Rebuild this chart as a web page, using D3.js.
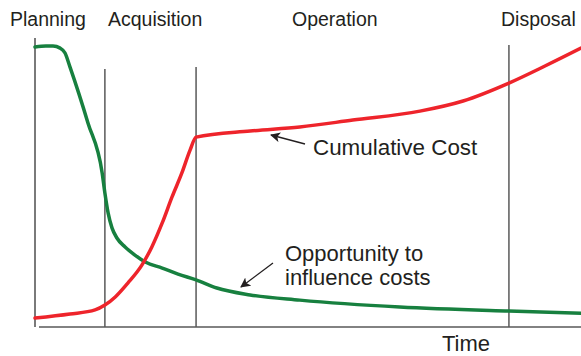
<!DOCTYPE html>
<html>
<head>
<meta charset="utf-8">
<script src="https://cdn.jsdelivr.net/npm/d3@7"></script>
<style>
  body { margin: 0; background: #fff; }
  text { font-family: "Liberation Sans", Arial, Helvetica, sans-serif; fill: #231f20; }
</style>
</head>
<body>
<svg></svg>
<script>
// chart size
var width = 581;
var height = 356;
var svg = d3.select("svg").attr("width", width).attr("height", height);

// data (time 0-100, value 0-100)
var phases = ["Planning", "Acquisition", "Operation", "Disposal"];
var phaseEnds = [12.8, 29.5, 86.8];
var phaseLineTops = [89.3, 90, 97.6];

var costTime = [0, 6.4, 11, 12.8, 14.7, 17, 19.6, 21.4, 23.3, 25.1, 26.9, 28.4, 29.5, 39.4, 48.5, 58.2, 70.5, 78.4, 86.8, 93.4, 100];
var costValue = [3.1, 4.5, 5.9, 7.6, 10.4, 15.2, 21.5, 27.7, 36, 45, 53.3, 61.2, 65.7, 67.8, 69.2, 71.6, 74.7, 78.2, 84.4, 90.3, 96.5];

var oppTime = [0, 2, 3.3, 4.6, 5.5, 6.4, 9.7, 12.3, 12.8, 13.4, 14.1, 15, 16.5, 18.3, 20.2, 23.3, 26.2, 29.5, 33.3, 39.4, 48.5, 66.8, 86.8, 100];
var oppValue = [96.9, 97.2, 97.2, 96.5, 94.8, 90, 70.6, 53.3, 46.4, 39.4, 34.3, 30.8, 27.7, 24.9, 22.5, 20.4, 18.3, 16.3, 13.5, 11.1, 9.3, 6.9, 5.5, 4.8];

// scales
var x = d3.scaleLinear().domain([0, 100]).range([35, 581]);
var y = d3.scaleLinear().domain([0, 100]).range([327, 38]);

var axisColor = "#595959";

// axes
svg.append("line")
    .attr("x1", x(0)).attr("x2", x(0))
    .attr("y1", y(0)).attr("y2", y(100))
    .attr("stroke", axisColor).attr("stroke-width", 1.6);

svg.append("line")
    .attr("x1", x(0) + 4).attr("x2", x(100))
    .attr("y1", y(0)).attr("y2", y(0))
    .attr("stroke", axisColor).attr("stroke-width", 1.6);

// phase boundaries
phaseEnds.forEach(function (t, i) {
    svg.append("line")
        .attr("x1", x(t)).attr("x2", x(t))
        .attr("y1", y(0)).attr("y2", y(phaseLineTops[i]))
        .attr("stroke", axisColor).attr("stroke-width", 1.5);
});

// phase labels
var labelX = [10, 108, 292, 501];
phases.forEach(function (p, i) {
    svg.append("text")
        .attr("x", labelX[i]).attr("y", 26)
        .attr("font-size", "19.5px")
        .text(p);
});

// curves
var line = d3.line()
    .x(function (d) { return x(d[0]); })
    .y(function (d) { return y(d[1]); })
    .curve(d3.curveMonotoneX);

svg.append("path")
    .attr("d", line(d3.zip(oppTime, oppValue)))
    .attr("fill", "none")
    .attr("stroke", "#17803f")
    .attr("stroke-width", 3.5)
    .attr("stroke-linecap", "round");

svg.append("path")
    .attr("d", line(d3.zip(costTime, costValue)))
    .attr("fill", "none")
    .attr("stroke", "#ee242b")
    .attr("stroke-width", 3.5)
    .attr("stroke-linecap", "round");

// arrow marker
svg.append("defs").append("marker")
    .attr("id", "arrow")
    .attr("viewBox", "0 0 10 10")
    .attr("refX", 9).attr("refY", 5)
    .attr("markerWidth", 10).attr("markerHeight", 10)
    .attr("markerUnits", "userSpaceOnUse")
    .attr("orient", "auto")
    .append("path")
    .attr("d", "M0,0 L10,5 L0,10 L2.5,5 Z")
    .attr("fill", "#231f20");

// annotations
svg.append("line")
    .attr("x1", 305).attr("y1", 144)
    .attr("x2", 271).attr("y2", 135)
    .attr("stroke", "#231f20").attr("stroke-width", 1.3)
    .attr("marker-end", "url(#arrow)");

svg.append("text")
    .attr("x", 313).attr("y", 155)
    .attr("font-size", "22.4px")
    .text("Cumulative Cost");

svg.append("line")
    .attr("x1", 273).attr("y1", 263)
    .attr("x2", 241).attr("y2", 287)
    .attr("stroke", "#231f20").attr("stroke-width", 1.3)
    .attr("marker-end", "url(#arrow)");

svg.append("text")
    .attr("x", 285).attr("y", 261)
    .attr("font-size", "22px")
    .text("Opportunity to");

svg.append("text")
    .attr("x", 285).attr("y", 285)
    .attr("font-size", "22px")
    .text("influence costs");

// axis title
svg.append("text")
    .attr("x", 442).attr("y", 351)
    .attr("font-size", "22px")
    .text("Time");
</script>
</body>
</html>
